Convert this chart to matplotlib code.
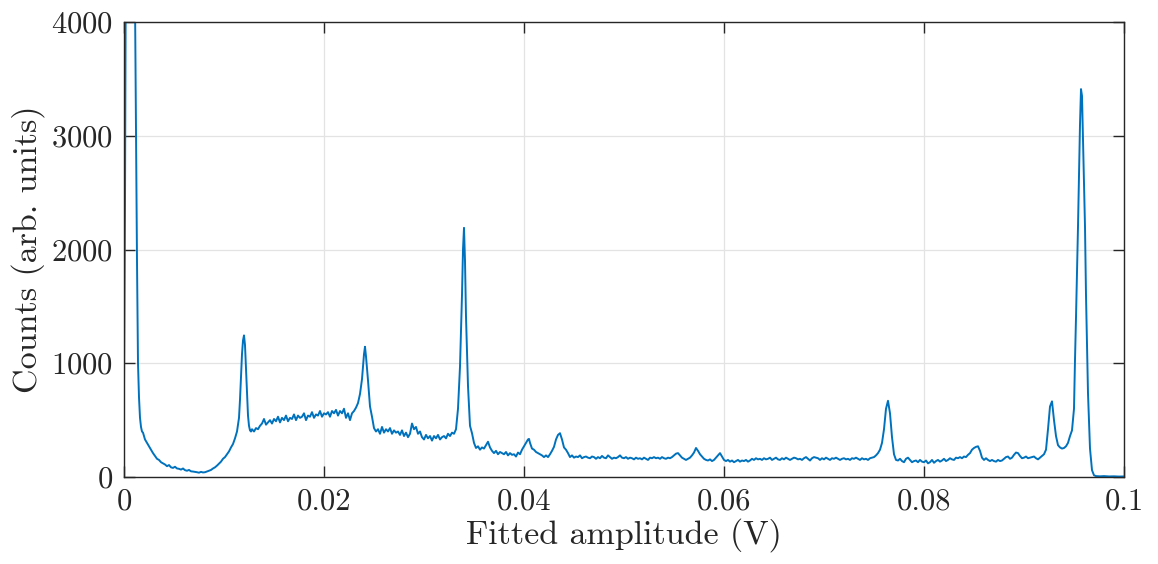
import numpy as np
import matplotlib
matplotlib.use('Agg')
import matplotlib.pyplot as plt
from matplotlib.ticker import FuncFormatter

# amplitude in units of 1e-4 V, counts
# low-amplitude spike, valley and first peak
amp_low = [0, 1, 2, 4, 8, 10, 11, 12, 13, 14, 15, 16, 17, 18, 19, 20, 21,
           23, 25, 27, 29, 31, 33, 35, 37, 39, 41, 43, 45, 47, 49, 51, 53, 55, 57, 59, 61,
           63, 65, 67, 69, 71, 73, 75, 77, 79, 81, 83, 85, 87, 89, 91, 93, 95, 97, 99, 101,
           103, 105, 107, 109, 111, 113, 115,
           116, 117, 118, 119, 120, 121, 122, 123, 124, 125, 126, 127]
cnt_low = [780, 2400, 5000, 6000, 6000, 5000, 4200, 3000, 1900, 1000, 700, 520, 440, 400, 390, 360, 330,
           300, 270, 240, 210, 185, 160, 150, 130, 120, 110,
           95, 105, 85, 80, 90, 75, 72, 65, 75, 60,
           55, 62, 50, 48, 45, 42, 38, 45, 40, 42,
           48, 55, 62, 75, 85, 100, 118, 135, 160, 175,
           200, 225, 260, 290, 340, 400, 520,
           680, 880, 1080, 1200, 1245, 1160, 950, 720, 540, 450, 410, 400]

# plateau and peak at 0.024
amp_plat = list(range(128, 232, 2)) + [232, 234, 236, 238, 240, 241, 242, 244, 246, 248, 250, 252]
cnt_plat = [420, 400, 430, 420, 450, 470, 510, 460, 480, 500,
            470, 510, 490, 530, 480, 520, 500, 540, 490, 520,
            510, 550, 500, 540, 520, 530, 560, 500, 540, 530,
            570, 520, 550, 540, 580, 530, 560, 550, 570, 530,
            580, 560, 590, 540, 580, 560, 600, 520, 560, 500,
            560, 580,
            610, 650, 730, 860, 1080, 1145, 1060, 850, 620, 530, 430, 400]

# shoulder and peak at 0.034
amp_mid = (list(range(254, 334, 2)) + [334, 336, 338, 339, 340, 341, 342, 344, 346, 348]
           + list(range(350, 406, 2)) + [405, 406])
cnt_mid = [420, 380, 440, 390, 420, 400, 430, 380, 410, 390,
           400, 370, 410, 360, 390, 350, 380, 470, 420, 440,
           380, 400, 350, 330, 370, 340, 360, 320, 360, 340,
           370, 330, 350, 360, 340, 380, 360, 390, 380, 420,
           600, 970, 1600, 2000, 2190, 1900, 1410, 800, 450, 385,
           300, 255, 270, 240, 260, 250, 280, 310, 260, 230,
           210, 230, 200, 220, 210, 200, 220, 190, 210, 195,
           200, 180, 215, 200, 240, 270, 300, 330,
           335, 300]

# long flat region with small lines, 0.0408 to 0.0946
amp_flat = list(range(408, 948, 2))
cnt_flat = [250, 240, 220, 210, 200, 190, 175, 190, 175, 200,
            230, 265, 330, 370, 385, 330, 260, 240, 210, 175,
            190, 170, 180, 175, 190, 165, 175, 180, 170, 165,
            180, 175, 160, 175, 165, 185, 170, 165, 190, 175,
            160, 170, 165, 175, 190, 170, 165, 175, 160, 170,
            165, 155, 170, 160, 165, 155, 170, 160, 150, 170,
            165, 175, 165, 170, 160, 175, 165, 160, 170, 165,
            175, 190, 205, 210, 190, 170, 160, 150, 160, 170,
            190, 215, 255, 230, 200, 180, 160, 150, 145, 155,
            140, 150, 170, 190, 210, 180, 150, 140, 150, 135,
            145, 130, 140, 150, 135, 145, 140, 150, 135, 145,
            160, 150, 165, 155, 160, 150, 165, 155, 160, 170,
            150, 160, 170, 155, 150, 165, 155, 170, 160, 150,
            160, 170, 165, 155, 160, 150, 165, 175, 160, 145,
            165, 175, 170, 165, 150, 165, 155, 170, 160, 150,
            165, 160, 170, 160, 150, 160, 165, 155, 160, 150,
            165, 160, 170, 160, 150, 165, 155, 160, 150, 165,
            170, 175, 190, 210, 240, 300, 420, 600, 670, 560,
            350, 200, 150, 145, 160, 140, 130, 160, 170, 150,
            130, 140, 145, 130, 150, 135, 130, 145, 120, 130,
            150, 125, 140, 150, 135, 145, 160, 140, 150, 165,
            155, 150, 170, 165, 175, 165, 180, 175, 195, 210,
            240, 255, 265, 270, 230, 170, 150, 165, 150, 140,
            150, 140, 135, 150, 140, 145, 160, 175, 180, 160,
            170, 195, 215, 210, 185, 165, 170, 180, 165, 170,
            175, 180, 165, 155, 170, 185, 200, 240, 420, 620,
            665, 500, 360, 280, 260, 250, 255, 270, 300, 360]

# big peak at 0.0957 and empty tail
amp_end = [948, 950, 951, 952, 954, 956, 957, 958, 960, 961, 962, 964, 966, 968,
           970, 972, 976, 980, 985, 990, 995, 1000]
cnt_end = [410, 600, 1030, 1400, 2200, 3100, 3410, 3350, 2600, 2200, 1600, 735, 250, 60,
           15, 8, 6, 8, 5, 6, 4, 5]

x_ticks = [0, 0.02, 0.04, 0.06, 0.08, 0.1]
y_ticks = [0, 1000, 2000, 3000, 4000]

amp = np.array(amp_low + amp_plat + amp_mid + amp_flat + amp_end) * 1e-4
counts = np.array(cnt_low + cnt_plat + cnt_mid + cnt_flat + cnt_end)
assert len(amp) == len(counts)

plt.rcParams['font.family'] = ['cmr10', 'DejaVu Serif']
plt.rcParams['axes.formatter.use_mathtext'] = True

fig = plt.figure(figsize=(11.58, 5.64), dpi=100)
ax = fig.add_axes([124 / 1158, 87 / 564, 1000 / 1158, 455 / 564])

ax.plot(amp, counts, color='#0072BD', lw=1.4)

ax.set_xlim(0, 0.1)
ax.set_ylim(0, 4000)
ax.set_xticks(x_ticks)
ax.set_yticks(y_ticks)
ax.xaxis.set_major_formatter(FuncFormatter(lambda v, p: '%g' % v))

ax.grid(True, color='#e3e3e3', lw=0.9)
ax.set_axisbelow(True)
for s in ax.spines.values():
    s.set_color('#262626')
    s.set_linewidth(1.0)
ax.tick_params(direction='in', top=True, right=True, length=8, width=1.0,
               color='#262626', labelcolor='#262626', labelsize=22)
ax.tick_params(axis='x', pad=8)
ax.tick_params(axis='y', pad=8)

ax.set_xlabel('Fitted amplitude (V)', fontsize=24.5, color='#262626', labelpad=2)
ax.set_ylabel('Counts (arb. units)', fontsize=24.5, color='#262626', labelpad=4)

fig.savefig('out.png', dpi=100)
